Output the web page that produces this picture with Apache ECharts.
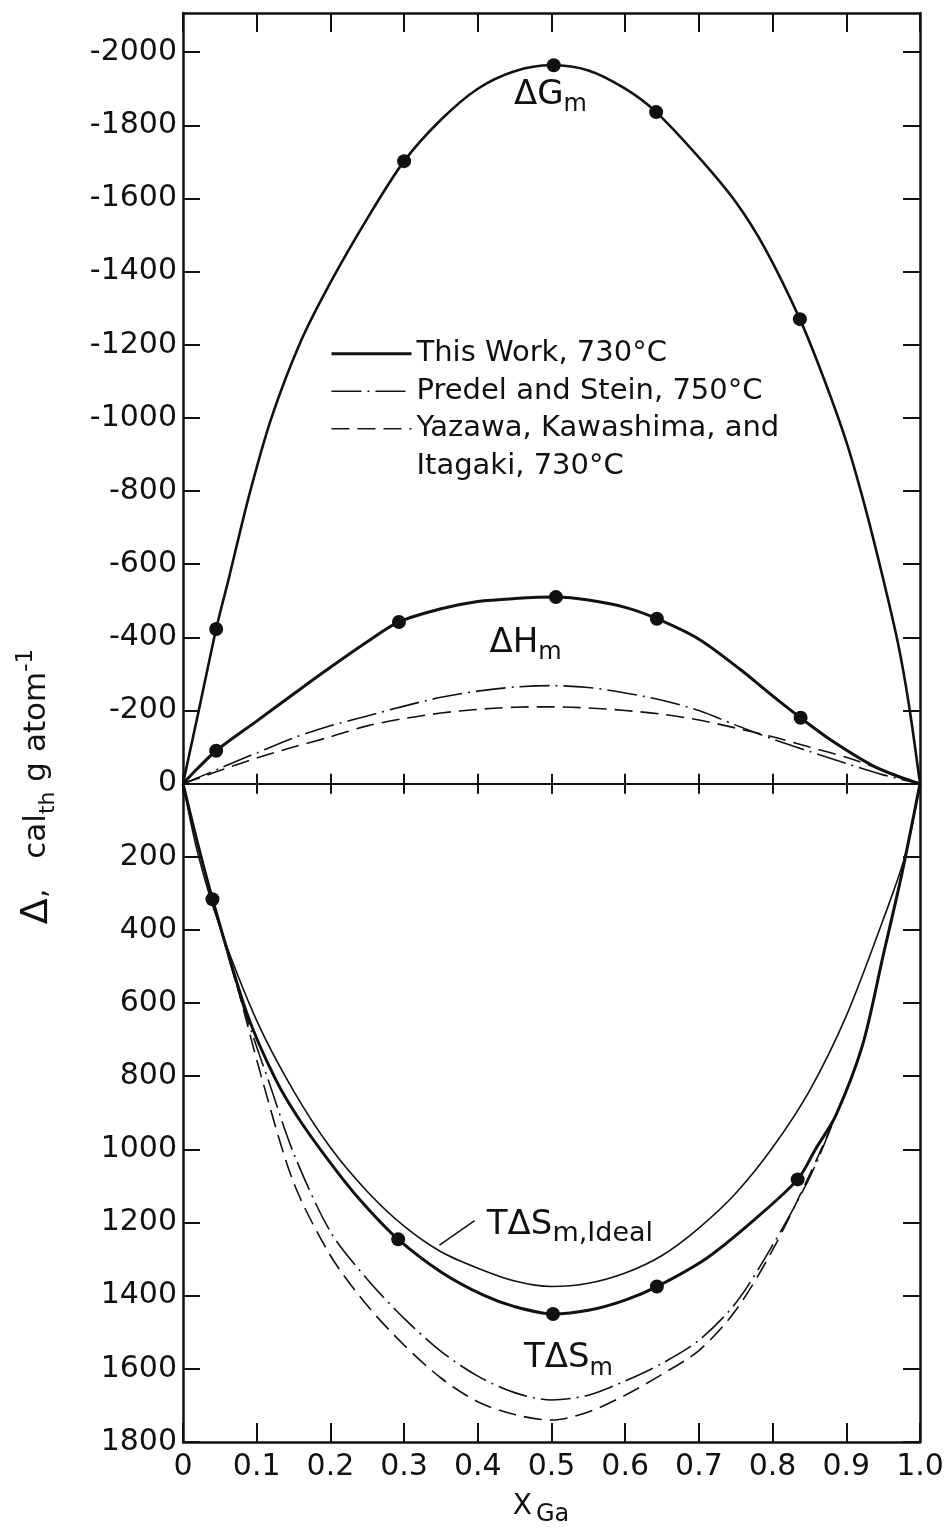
<!DOCTYPE html>
<html>
<head>
<meta charset="utf-8">
<style>
  html, body { margin: 0; padding: 0; background: #fff; }
  #chart { width: 947px; height: 1529px; }
</style>
<script src="https://cdn.jsdelivr.net/npm/echarts@6/dist/echarts.min.js"></script>
</head>
<body>
<div id="chart"></div>
<script>
// x = mole fraction of Ga, y = cal_th per g atom (negative values plotted upwards)
const yTicks = [-2000, -1800, -1600, -1400, -1200, -1000, -800, -600, -400, -200,
  0, 200, 400, 600, 800, 1000, 1200, 1400, 1600, 1800];

// dG_m, this work
const gX = [0, 0.023, 0.045, 0.062, 0.09, 0.12, 0.16, 0.2, 0.25, 0.3, 0.35, 0.4, 0.45, 0.5,
  0.55, 0.6, 0.642, 0.7, 0.75, 0.79, 0.837, 0.87, 0.9, 0.925, 0.95, 0.97, 0.985, 1];
const gY = [0, -215, -423, -560, -790, -1000, -1210, -1370, -1545, -1702, -1815, -1900, -1948, -1964,
  -1950, -1900, -1836, -1712, -1590, -1462, -1270, -1105, -935, -760, -560, -385, -215, 0];

// dH_m, this work
const hX = [0, 0.02, 0.045, 0.1, 0.15, 0.2, 0.25, 0.293, 0.35, 0.4, 0.45, 0.506, 0.55, 0.6,
  0.643, 0.7, 0.755, 0.8, 0.838, 0.88, 0.935, 0.97, 1];
const hY = [0, -42, -90, -171, -245, -318, -388, -442, -478, -498, -506, -510, -502, -482,
  -451, -395, -314, -240, -180, -118, -50, -20, 0];

// dH_m, Predel and Stein / Yazawa et al.
const refX = [0, 0.02, 0.05, 0.1, 0.15, 0.2, 0.25, 0.3, 0.35, 0.4, 0.45, 0.5, 0.55, 0.6,
  0.65, 0.7, 0.75, 0.8, 0.85, 0.9, 0.95, 1];
const predelH = [0, -16, -42, -84, -125, -158, -185, -212, -236, -253, -264, -268, -263, -248,
  -228, -200, -160, -122, -88, -55, -24, 0];
const yazawaH = [0, -14, -36, -70, -100, -128, -158, -178, -193, -203, -209, -210, -207, -200,
  -190, -174, -152, -128, -100, -72, -37, 0];

// T dS_m, this work
const sX = [0, 0.02, 0.04, 0.086, 0.125, 0.16, 0.216, 0.25, 0.292, 0.35, 0.407, 0.45, 0.502,
  0.55, 0.6, 0.643, 0.71, 0.777, 0.834, 0.858, 0.886, 0.922, 0.95, 0.975, 1];
const sY = [0, 165, 316, 624, 806, 925, 1079, 1160, 1246, 1335, 1398, 1430, 1450,
  1440, 1412, 1375, 1298, 1189, 1082, 1000, 906, 715, 470, 250, 0];

// T dS_m, ideal
const iX = [0, 0.02, 0.05, 0.1, 0.15, 0.2, 0.25, 0.3, 0.35, 0.4, 0.45, 0.5, 0.55, 0.6,
  0.65, 0.7, 0.75, 0.8, 0.85, 0.9, 0.95, 0.98, 1];
const iY = [0, 190, 392, 648, 840, 995, 1115, 1210, 1280, 1325, 1360, 1375, 1366, 1338,
  1290, 1215, 1120, 995, 840, 635, 372, 196, 0];

// T dS_m, Predel and Stein
const pSX = [0, 0.02, 0.04, 0.077, 0.1, 0.115, 0.15, 0.2, 0.25, 0.3, 0.35, 0.4, 0.45, 0.5,
  0.55, 0.6, 0.65, 0.7, 0.75, 0.8, 0.85, 0.886, 0.922, 0.95, 0.975, 1];
const pSY = [0, 165, 316, 580, 720, 806, 1010, 1225, 1355, 1462, 1552, 1620, 1665, 1685,
  1672, 1633, 1585, 1522, 1420, 1262, 1078, 906, 715, 470, 250, 0];

// T dS_m, Yazawa, Kawashima and Itagaki
const ySX = [0, 0.02, 0.04, 0.077, 0.107, 0.15, 0.2, 0.25, 0.3, 0.35, 0.4, 0.45, 0.5,
  0.55, 0.6, 0.65, 0.7, 0.75, 0.8, 0.85, 0.886, 0.922, 0.95, 0.975, 1];
const ySY = [0, 165, 316, 580, 806, 1090, 1290, 1427, 1535, 1625, 1690, 1725, 1740,
  1718, 1672, 1615, 1550, 1440, 1275, 1070, 906, 715, 470, 250, 0];

// measured points
const ptGX = [0.045, 0.30, 0.503, 0.642, 0.837];
const ptGY = [-423, -1702, -1964, -1836, -1270];
const ptHX = [0.045, 0.293, 0.506, 0.643, 0.838];
const ptHY = [-90, -442, -510, -451, -180];
const ptSX = [0.040, 0.292, 0.502, 0.643, 0.834];
const ptSY = [316, 1246, 1450, 1375, 1082];

const FONT = 'DejaVu Sans';
const INK = '#111';
const zip = (xs, ys) => xs.map((x, i) => [x, ys[i]]);

const WORK = 'This Work, 730°C';
const PREDEL = 'Predel and Stein, 750°C';
const YAZAWA = 'Yazawa, Kawashima, and';
const YAZAWA2 = 'Itagaki, 730°C';

const dashDot = [30, 6, 2, 6];
const dashed = [18, 8];

const rich = {
  b: { fontFamily: FONT, fontSize: 34, lineHeight: 44, color: INK },
  s: { fontFamily: FONT, fontSize: 24, lineHeight: 14, verticalAlign: 'bottom', color: INK },
  t: { fontFamily: FONT, fontSize: 27, lineHeight: 14, verticalAlign: 'bottom', color: INK }
};

function note(coord, text) {
  return {
    silent: true,
    symbol: 'circle',
    symbolSize: 0,
    label: { show: true, position: 'inside', formatter: text, rich: rich },
    data: [{ coord: coord }]
  };
}

function curve(name, data, width, type, extra) {
  return Object.assign({
    name: name,
    type: 'line',
    data: data,
    symbol: 'none',
    smooth: 0.3,
    silent: true,
    lineStyle: { color: INK, width: width, type: type }
  }, extra || {});
}

function dots(data) {
  return {
    name: 'points',
    type: 'scatter',
    data: data,
    symbol: 'circle',
    symbolSize: 14,
    silent: true,
    z: 5,
    itemStyle: { color: INK, opacity: 1 }
  };
}

const xBase = { type: 'value', min: 0, max: 1, interval: 0.1 };
const frameLine = { show: true, onZero: false, lineStyle: { color: INK, width: 2.5 } };
const tickStyle = { color: INK, width: 2 };

const chart = echarts.init(document.getElementById('chart'));
chart.setOption({
  animation: false,
  backgroundColor: '#fff',
  grid: { left: 183, right: 27, top: 13, bottom: 87, outerBoundsMode: 'none' },
  legend: {
    left: 330,
    top: 335,
    padding: 0,
    orient: 'vertical',
    itemWidth: 80,
    itemHeight: 14,
    itemGap: 0,
    selectedMode: false,
    itemStyle: { opacity: 0 },
    lineStyle: { width: 1.6 },
    textStyle: { fontFamily: FONT, fontSize: 29, lineHeight: 37.5, color: INK },
    data: [
      { name: WORK, lineStyle: { width: 3 } },
      { name: PREDEL, lineStyle: { width: 1.6 } },
      { name: YAZAWA, lineStyle: { width: 1.6 } },
      { name: YAZAWA2, icon: 'none' }
    ]
  },
  xAxis: [
    Object.assign({}, xBase, {
      position: 'bottom',
      axisLine: frameLine,
      axisTick: { show: true, inside: true, length: 19, lineStyle: tickStyle },
      axisLabel: {
        fontFamily: FONT, fontSize: 30, color: INK, margin: 10,
        formatter: v => (v === 0 ? '0' : v.toFixed(1))
      },
      splitLine: { show: false },
      name: '{x|X}{g|Ga}',
      nameLocation: 'middle',
      nameGap: 45,
      nameMoveOverlap: false,
      nameTextStyle: {
        padding: [0, 21, 0, 0],
        rich: {
          x: { fontFamily: FONT, fontSize: 28, lineHeight: 40, color: INK },
          g: { fontFamily: FONT, fontSize: 24, lineHeight: 17, verticalAlign: 'bottom', color: INK, padding: [0, 0, 0, 4] }
        }
      }
    }),
    Object.assign({}, xBase, {
      position: 'top',
      axisLine: frameLine,
      axisTick: { show: true, inside: true, length: 19, lineStyle: tickStyle },
      axisLabel: { show: false },
      splitLine: { show: false }
    }),
    Object.assign({}, xBase, {
      position: 'bottom',
      axisLine: { show: true, onZero: true, onZeroAxisIndex: 0, lineStyle: { color: INK, width: 2.2 } },
      axisTick: { show: true, inside: true, length: 10, lineStyle: tickStyle },
      axisLabel: { show: false },
      splitLine: { show: false }
    }),
    Object.assign({}, xBase, {
      position: 'bottom',
      axisLine: { show: true, onZero: true, onZeroAxisIndex: 0, lineStyle: { color: INK, width: 2.2 } },
      axisTick: { show: true, inside: false, length: 10, lineStyle: tickStyle },
      axisLabel: { show: false },
      splitLine: { show: false }
    })
  ],
  yAxis: [
    {
      type: 'value',
      position: 'left',
      inverse: true,
      min: -2107,
      max: 1800,
      axisLine: frameLine,
      axisTick: { show: true, inside: true, length: 17, customValues: yTicks, lineStyle: tickStyle },
      axisLabel: {
        customValues: yTicks,
        fontFamily: FONT, fontSize: 30, color: INK, margin: 6,
        formatter: v => String(v)
      },
      splitLine: { show: false },
      name: '{d|Δ}{a|,   cal}{s|th}{a| g atom}{p|-1}',
      nameLocation: 'middle',
      nameRotate: 90,
      nameGap: 124,
      nameMoveOverlap: false,
      nameTextStyle: {
        padding: [0, 118, 0, 0],
        rich: {
          d: { fontFamily: FONT, fontSize: 38, lineHeight: 44, color: INK },
          a: { fontFamily: FONT, fontSize: 31, lineHeight: 44, color: INK },
          s: { fontFamily: FONT, fontSize: 22, lineHeight: 20, verticalAlign: 'bottom', color: INK },
          p: { fontFamily: FONT, fontSize: 23, lineHeight: 4, verticalAlign: 'top', color: INK }
        }
      }
    },
    {
      type: 'value',
      position: 'right',
      inverse: true,
      min: -2107,
      max: 1800,
      axisLine: frameLine,
      axisTick: { show: true, inside: true, length: 17, customValues: yTicks, lineStyle: tickStyle },
      axisLabel: { show: false, customValues: yTicks },
      splitLine: { show: false }
    }
  ],
  series: [
    curve(WORK, zip(gX, gY), 2.6, 'solid', { markPoint: note([0.4986, -1883], '{b|ΔG}{s|m}') }),
    curve(WORK, zip(hX, hY), 3, 'solid', { markPoint: note([0.4648, -385], '{b|ΔH}{s|m}') }),
    curve(WORK, zip(sX, sY), 3, 'solid', { markPoint: note([0.523, 1572], '{b|TΔS}{s|m}') }),
    curve(PREDEL, zip(refX, predelH), 1.6, dashDot),
    curve(PREDEL, zip(pSX, pSY), 1.6, dashDot),
    curve(YAZAWA, zip(refX, yazawaH), 1.6, dashed),
    curve(YAZAWA, zip(ySX, ySY), 1.6, dashed),
    { name: YAZAWA2, type: 'line', data: [], symbol: 'none', lineStyle: { opacity: 0 } },
    curve('ideal', zip(iX, iY), 1.6, 'solid', {
      markPoint: note([0.525, 1207], '{b|TΔS}{t|m,Ideal}'),
      markLine: {
        silent: true,
        symbol: ['none', 'arrow'],
        symbolSize: [0, 14],
        label: { show: false },
        lineStyle: { color: INK, width: 1.5, type: 'solid' },
        data: [[{ coord: [0.3957, 1195] }, { coord: [0.348, 1262] }]]
      }
    }),
    dots(zip(ptGX, ptGY)),
    dots(zip(ptHX, ptHY)),
    dots(zip(ptSX, ptSY))
  ]
});
</script>
</body>
</html>
